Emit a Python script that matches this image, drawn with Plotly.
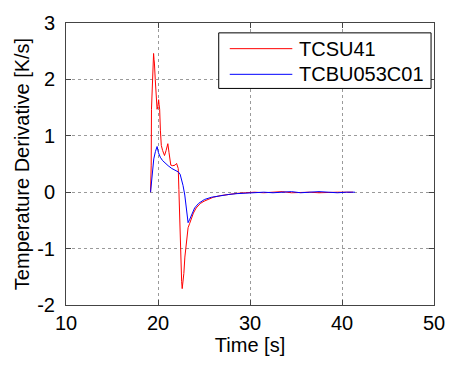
import plotly.graph_objects as go

# Time derivative of two thermocouple signals
series_names = ["TCSU41", "TCBU053C01"]

tcsu41_time = [19.19, 19.26, 19.29, 19.36, 19.42, 19.47, 19.52, 19.57, 19.61, 19.70,
               19.79, 19.90, 19.98, 20.04, 20.07, 20.12, 20.18, 20.26, 20.36, 20.50,
               20.71, 20.88, 21.07, 21.20, 21.39, 21.60, 21.85, 22.02, 22.20, 22.27,
               22.38, 22.48, 22.57, 22.63, 22.70, 22.81, 22.92, 23.02, 23.15, 23.27,
               23.45, 23.62, 23.85, 24.15, 24.60, 25.00, 25.39, 26.00, 26.81, 27.60,
               28.59, 29.50, 30.50, 31.50, 32.50, 33.50, 34.50, 35.50, 36.50, 37.50,
               38.50, 39.50, 40.50, 41.20]
tcsu41_rate = [0.00, 0.48, 1.47, 1.75, 2.10, 2.40, 2.46, 2.35, 2.29, 2.00,
               1.60, 1.47, 1.52, 1.60, 1.64, 1.55, 1.47, 1.10, 0.83, 0.74,
               0.65, 0.74, 0.86, 0.70, 0.48, 0.47, 0.48, 0.51, 0.42, 0.05,
               -0.69, -1.20, -1.58, -1.71, -1.62, -1.44, -1.15, -0.98, -0.78, -0.63,
               -0.55, -0.46, -0.37, -0.28, -0.20, -0.16, -0.13, -0.09, -0.06, -0.04,
               -0.02, -0.01, 0.00, -0.01, 0.00, 0.01, -0.01, 0.00, 0.00, -0.01,
               0.00, 0.00, 0.00, 0.00]

tcbu053c01_time = [19.19, 19.28, 19.37, 19.54, 19.72, 19.90, 20.05, 20.25, 20.50, 20.78,
                   21.10, 21.50, 21.90, 22.20, 22.40, 22.55, 22.72, 22.91, 23.10, 23.27,
                   23.45, 23.70, 23.98, 24.40, 25.04, 25.80, 26.81, 27.70, 28.60, 29.50,
                   30.50, 31.50, 32.50, 33.50, 34.50, 35.50, 36.50, 37.50, 38.50, 39.50,
                   40.50, 41.40]
tcbu053c01_rate = [0.00, 0.15, 0.30, 0.59, 0.72, 0.81, 0.70, 0.62, 0.56, 0.51,
                   0.47, 0.42, 0.39, 0.36, 0.32, 0.24, 0.12, -0.05, -0.30, -0.54,
                   -0.48, -0.38, -0.28, -0.20, -0.13, -0.09, -0.06, -0.04, -0.025, -0.015,
                   -0.01, 0.00, -0.01, 0.00, 0.01, -0.01, 0.00, 0.01, 0.00, -0.01,
                   0.00, 0.00]

x_ticks = [10, 20, 30, 40, 50]
y_ticks = [-2, -1, 0, 1, 2, 3]
line_colors = ["#ff0000", "#0000ff"]

FONT = "Liberation Sans, Arial, sans-serif"

fig = go.Figure()
fig.add_trace(go.Scatter(x=tcsu41_time, y=tcsu41_rate, mode="lines",
                         name=series_names[0], showlegend=False,
                         line=dict(color=line_colors[0], width=1)))
fig.add_trace(go.Scatter(x=tcbu053c01_time, y=tcbu053c01_rate, mode="lines",
                         name=series_names[1], showlegend=False,
                         line=dict(color=line_colors[1], width=1)))

axis_common = dict(
    showline=True, linecolor="#444444", linewidth=1, mirror="ticks",
    ticks="inside", ticklen=5, tickcolor="#444444",
    showgrid=True, gridcolor="#9a9a9a", griddash="dot", gridwidth=1,
    zeroline=False,
    tickfont=dict(family=FONT, size=20, color="black"),
)

fig.update_xaxes(range=[10, 50], tickvals=x_ticks, ticktext=[str(v) for v in x_ticks],
                 title=dict(text="Time [s]", font=dict(family=FONT, size=20, color="black"),
                            standoff=4),
                 **axis_common)
fig.update_yaxes(range=[-2, 3], tickvals=y_ticks, ticktext=[str(v) for v in y_ticks],
                 title=dict(text="Temperature Derivative [K/s]",
                            font=dict(family=FONT, size=20, color="black"), standoff=2),
                 ticklabelstandoff=6,
                 **axis_common)

# Boxed legend drawn in paper coordinates
box = dict(x0=0.415, x1=0.992, y0=0.768, y1=0.965)
rows_y = [0.909, 0.818]
shapes = [dict(type="rect", xref="paper", yref="paper", line=dict(color="black", width=1),
               fillcolor="white", layer="above", **box)]
annotations = []
for name, color, yy in zip(series_names, line_colors, rows_y):
    shapes.append(dict(type="line", xref="paper", yref="paper", x0=0.445, x1=0.615,
                       y0=yy, y1=yy, line=dict(color=color, width=1), layer="above"))
    annotations.append(dict(xref="paper", yref="paper", x=0.628, y=yy, text=name,
                            showarrow=False, xanchor="left", yanchor="middle",
                            font=dict(family=FONT, size=20, color="black")))

fig.update_layout(
    width=457, height=365,
    margin=dict(l=66, r=16, t=19, b=60),
    paper_bgcolor="white", plot_bgcolor="white",
    shapes=shapes, annotations=annotations,
    showlegend=False,
)

fig.write_html("out.html")
